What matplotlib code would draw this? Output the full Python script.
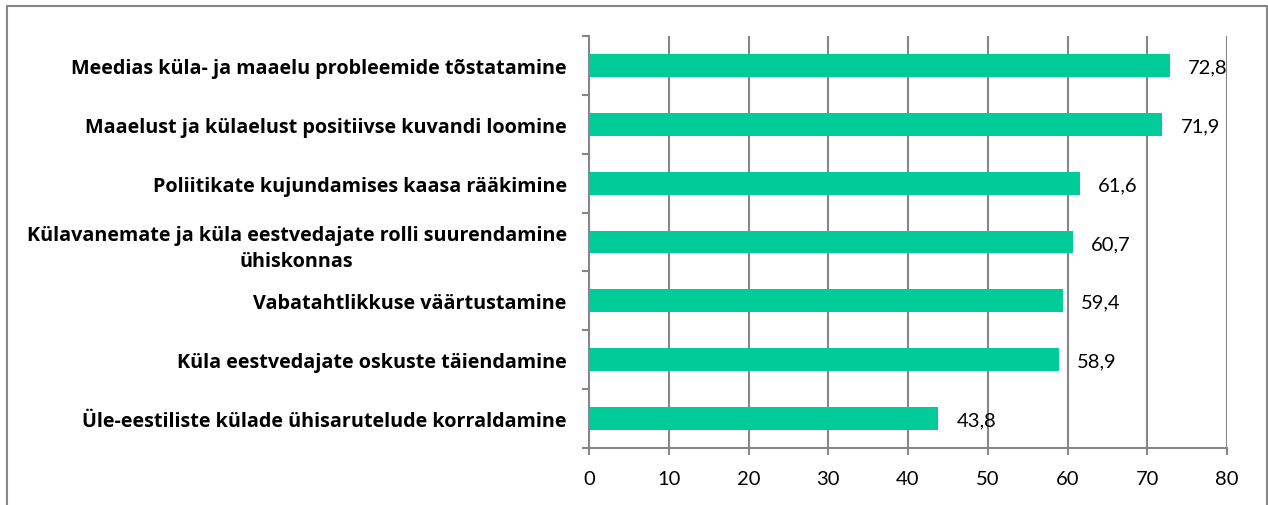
import matplotlib
matplotlib.use("Agg")
import matplotlib.pyplot as plt
from matplotlib.lines import Line2D

categories = [
    "Meedias küla- ja maaelu probleemide tõstatamine",
    "Maaelust ja külaelust positiivse kuvandi loomine",
    "Poliitikate kujundamises kaasa rääkimine",
    "Külavanemate ja küla eestvedajate rolli suurendamine\nühiskonnas",
    "Vabatahtlikkuse väärtustamine",
    "Küla eestvedajate oskuste täiendamine",
    "Üle-eestiliste külade ühisarutelude korraldamine",
]
values = [72.8, 71.9, 61.6, 60.7, 59.4, 58.9, 43.8]
xticks = [0, 10, 20, 30, 40, 50, 60, 70, 80]

W, H = 1268, 506
fig = plt.figure(figsize=(W / 100, H / 100), dpi=100)
plt.rcParams['font.family'] = ['Lato', 'DejaVu Sans']

ax = fig.add_axes([589 / W, 1 - 449 / H, (1227 - 589) / W, (449 - 37) / H])

bar_color = "#00CC99"
grid_color = "#868686"
n = len(categories)
pos = list(range(n))
ax.barh(pos, values, height=0.39, color=bar_color, zorder=3)
ax.set_ylim(n - 0.5, -0.5)
ax.set_xlim(0, 80)
ax.set_xticks(xticks)
ax.set_xticklabels([str(t) for t in xticks], fontsize=14.5)
ax.set_yticks(pos)
ax.set_yticklabels(categories, fontsize=14.2, fontweight='bold', multialignment='center',
                   family=['Open Sans', 'DejaVu Sans'], linespacing=1.45)
ax.tick_params(axis='y', length=0, pad=16)
ax.set_yticks([i - 0.5 for i in range(n + 1)], minor=True)
ax.tick_params(axis='y', which='minor', length=5, color=grid_color, width=1.5)
ax.tick_params(axis='x', length=5, color=grid_color, width=1.5, pad=11)

for x in xticks[1:]:
    ax.axvline(x, color=grid_color, lw=1.5, zorder=1)
for s in ['top', 'right']:
    ax.spines[s].set_visible(False)
for s in ['left', 'bottom']:
    ax.spines[s].set_color(grid_color)
    ax.spines[s].set_linewidth(1.5)

for p, v in zip(pos, values):
    ax.annotate(f"{v:.1f}".replace('.', ','), (v, p), xytext=(13, -1), textcoords='offset points',
                va='center', ha='left', fontsize=14.5, zorder=4)

# chart frame (no bottom edge visible)
x0, x1, y1 = 7 / W, 1266.5 / W, 1 - 7 / H
fig.lines.append(Line2D([x0, x0, x1, x1], [0, y1, y1, 0], transform=fig.transFigure,
                        color=grid_color, lw=1.5))

fig.savefig("out.png", dpi=100)
